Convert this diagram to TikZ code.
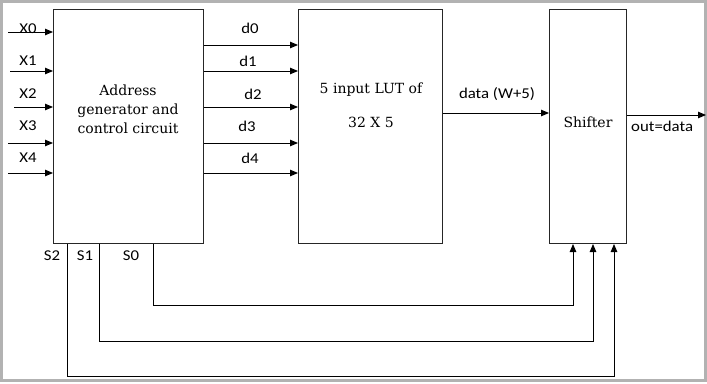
\documentclass[tikz,border=0pt]{standalone}
\usepackage{fontspec}
\setmainfont{DejaVu Serif}
\newfontfamily\labfont[FakeStretch=1.12]{Carlito}
\usetikzlibrary{arrows.meta}
\begin{document}
\begin{tikzpicture}[x=1pt,y=-1pt,
  blk/.style={draw=black!85,line width=1pt,anchor=north west,inner sep=0pt},
  wire/.style={draw=black,line width=0.9pt},
  arr/.style={wire,-{Triangle[length=8pt,width=6.5pt]}},
  lab/.style={font=\labfont\fontsize{15}{17}\selectfont,inner sep=0pt},
  btxt/.style={font=\fontsize{14}{19}\selectfont,align=center,inner sep=0pt}]
\useasboundingbox (0,0) rectangle (707,383);
\draw[draw=black!30,line width=3pt] (1.5,1.5) rectangle (705.5,380);
% blocks
\node[blk,minimum width=150pt,minimum height=234pt] (A) at (53,9) {};
\node[blk,minimum width=144pt,minimum height=234pt] (B) at (298,9) {};
\node[blk,minimum width=77pt,minimum height=234pt] (C) at (549,9) {};
\node[btxt] (At) at (128,109) {Address\\generator and\\control circuit};
\node[btxt] (Bt1) at (371,90) {5 input LUT of};
\node[btxt] (Bt2) at (371,122) {32 X 5};
\node[btxt] (Ct) at (588,122) {Shifter};
% inputs
\coordinate (x0) at (8,32);
\coordinate (x1) at (10,71);
\coordinate (x2) at (14,107);
\coordinate (x3) at (8,143);
\coordinate (x4) at (8,173);
\foreach \i in {0,...,4}{\draw[arr] (x\i) -- (x\i -| A.west);}
\node[lab] (lx0) at (28,29) {X0};
\node[lab] (lx1) at (28,61) {X1};
\node[lab] (lx2) at (28,94) {X2};
\node[lab] (lx3) at (28,126) {X3};
\node[lab] (lx4) at (28,158) {X4};
% d outputs
\coordinate (d0) at (203,45);
\coordinate (d1) at (203,71);
\coordinate (d2) at (203,107);
\coordinate (d3) at (203,143);
\coordinate (d4) at (203,173);
\foreach \i in {0,...,4}{\draw[arr] (d\i -| A.east) -- (d\i -| B.west);}
\node[lab] (ld0) at (250,28) {d0};
\node[lab] (ld1) at (248,61) {d1};
\node[lab] (ld2) at (253,94) {d2};
\node[lab] (ld3) at (247,126) {d3};
\node[lab] (ld4) at (250,158) {d4};
% data
\coordinate (dt) at (450,113);
\draw[arr] (dt -| B.east) -- (dt -| C.west);
\node[lab] (ldt) at (497,94) {data (W+5)};
\coordinate (out) at (706,115);
\draw[arr] (out -| C.east) -- (out);
\node[lab,anchor=west] (lout) at (631,126) {out=data};
% select lines
\node[lab] (ls2) at (52,256) {S2};
\node[lab] (ls1) at (85,256) {S1};
\node[lab] (ls0) at (131,256) {S0};
\coordinate (p0) at (153,305); \coordinate (q0) at (573,305);
\coordinate (p1) at (99,341);  \coordinate (q1) at (593,341);
\coordinate (p2) at (67,376);  \coordinate (q2) at (614,376);
\foreach \i in {0,1,2}{\draw[arr] (p\i |- A.south) -- (p\i) -- (q\i) -- (q\i |- C.south);}
\end{tikzpicture}
\end{document}
